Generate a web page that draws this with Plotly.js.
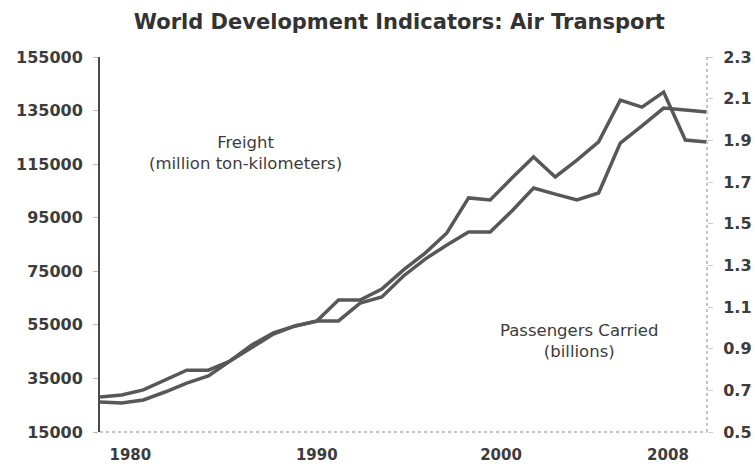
<!DOCTYPE html>
<html>
<head>
<meta charset="utf-8">
<script src="https://cdn.plot.ly/plotly-3.0.1.min.js"></script>
<style>html,body{margin:0;padding:0;background:#fff;}#chart{width:755px;height:470px;}</style>
</head>
<body>
<div id="chart"></div>
<script>
// Data
const years = [1980,1981,1982,1983,1984,1985,1986,1987,1988,1989,1990,1991,1992,1993,1994,1995,1996,1997,1998,1999,2000,2001,2002,2003,2004,2005,2006,2007,2008];
// Freight, million ton-kilometers (left axis)
const freight = [28100,28800,30700,34400,38100,38100,41500,47500,52000,54600,56400,64300,64300,68400,75500,81800,89300,102400,101600,109800,117700,110200,116500,123300,138900,136300,141900,124000,123300];
// Passengers carried, billions (right axis)
const passengers = [0.644,0.639,0.654,0.692,0.735,0.769,0.841,0.908,0.970,1.009,1.033,1.033,1.119,1.148,1.249,1.330,1.398,1.460,1.460,1.561,1.671,1.642,1.614,1.647,1.887,1.969,2.055,2.046,2.036];
const xTickText = ['1980','1990','2000','2008'];
const titleText = 'World Development Indicators: Air Transport';
const freightLabel = 'Freight<br>(million ton-kilometers)';
const passengersLabel = 'Passengers Carried<br>(billions)';

const lineColor = '#585858';
const textColor = '#3c3c3c';
const fontFam = '"DejaVu Sans", Verdana, sans-serif';

const traces = [
  {x: years, y: freight, type: 'scatter', mode: 'lines', name: 'Freight',
   line: {color: lineColor, width: 3.5}, yaxis: 'y'},
  {x: years, y: passengers, type: 'scatter', mode: 'lines', name: 'Passengers Carried',
   line: {color: lineColor, width: 3.5}, yaxis: 'y2'}
];

const layout = {
  width: 755, height: 470,
  margin: {l: 100, r: 48, t: 57, b: 38},
  paper_bgcolor: '#ffffff', plot_bgcolor: '#ffffff',
  showlegend: false,
  font: {family: fontFam, color: textColor},
  title: {text: '<b>' + titleText + '</b>', x: 0.529, xanchor: 'center', y: 0.955, yanchor: 'middle',
          font: {family: fontFam, size: 21, color: '#333333'}},
  xaxis: {
    range: [1980, 2008], showgrid: false, zeroline: false, showline: false,
    tickmode: 'array', tickvals: [1981.4, 1990.0, 1998.5, 2006.2], ticktext: xTickText,
    ticks: '', ticklabelstandoff: 12,
    tickfont: {family: fontFam, size: 15, color: textColor, weight: 'bold'}
  },
  yaxis: {
    range: [15000, 155000], tick0: 15000, dtick: 20000, tickmode: 'linear',
    showgrid: false, zeroline: false, showline: true, linecolor: '#4a4a4a', linewidth: 2,
    ticks: 'outside', ticklen: 5, tickcolor: '#bbbbbb', ticklabelstandoff: 7,
    tickformat: 'd',
    tickfont: {family: fontFam, size: 16, color: textColor, weight: 'bold'}
  },
  yaxis2: {
    overlaying: 'y', side: 'right',
    range: [0.5, 2.3], tick0: 0.5, dtick: 0.2, tickmode: 'linear', tickformat: '.1f',
    showgrid: false, zeroline: false, showline: false,
    ticks: 'outside', ticklen: 5, tickcolor: '#cccccc', ticklabelstandoff: 7,
    tickfont: {family: fontFam, size: 16, color: textColor, weight: 'bold'}
  },
  shapes: [
    {type: 'line', xref: 'paper', yref: 'paper', x0: 0, x1: 1, y0: 0, y1: 0,
     line: {color: '#c4c4c4', width: 2, dash: 'dot'}},
    {type: 'line', xref: 'paper', yref: 'paper', x0: 1, x1: 1, y0: 0, y1: 1,
     line: {color: '#c4c4c4', width: 2, dash: 'dot'}}
  ],
  annotations: [
    {text: freightLabel, xref: 'paper', yref: 'paper', x: 0.239, y: 0.744,
     xanchor: 'center', yanchor: 'middle',
     showarrow: false, align: 'center', font: {family: fontFam, size: 16.5, color: textColor}},
    {text: passengersLabel, xref: 'paper', yref: 'paper', x: 0.79, y: 0.243,
     xanchor: 'center', yanchor: 'middle',
     showarrow: false, align: 'center', font: {family: fontFam, size: 16.5, color: textColor}}
  ]
};

Plotly.newPlot('chart', traces, layout, {displayModeBar: false, staticPlot: true});
</script>
</body>
</html>
